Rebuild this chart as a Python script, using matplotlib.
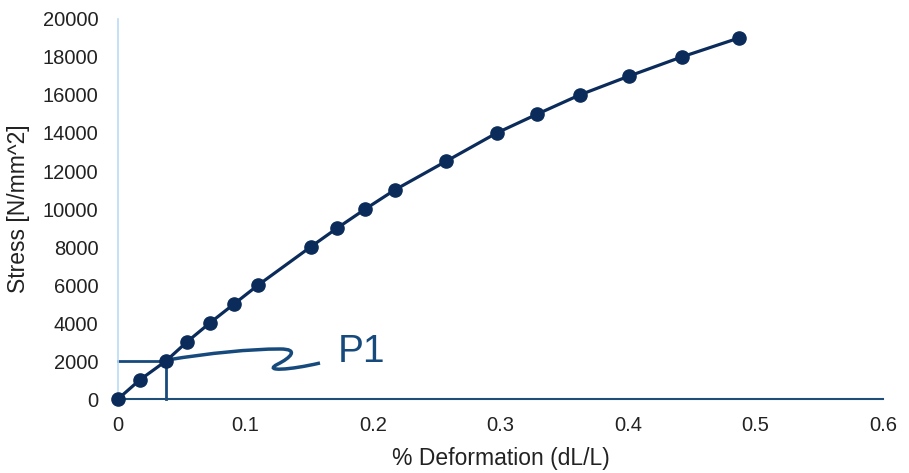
import matplotlib
matplotlib.use("Agg")
import matplotlib.pyplot as plt
from matplotlib.path import Path
from matplotlib.patches import PathPatch

plt.rcParams['font.family'] = ['Liberation Sans', 'DejaVu Sans']

deformation = [0.0, 0.017, 0.0376, 0.054, 0.072, 0.091, 0.110, 0.151, 0.172,
               0.194, 0.217, 0.257, 0.297, 0.329, 0.362, 0.401, 0.442, 0.487]
stress = [0, 1000, 2000, 3000, 4000, 5000, 6000, 8000, 9000,
          10000, 11000, 12500, 14000, 15000, 16000, 17000, 18000, 19000]
x_ticks = [0, 0.1, 0.2, 0.3, 0.4, 0.5, 0.6]
x_tick_labels = ['0', '0.1', '0.2', '0.3', '0.4', '0.5', '0.6']
y_ticks = list(range(0, 20001, 2000))
p1_x, p1_y = 0.0376, 2000

navy = '#0b2c5a'
anno = '#174a7c'

fig = plt.figure(figsize=(9.09, 4.73), dpi=100)
ax = fig.add_axes([118/909, 1-399/473, (883-118)/909, (399-19)/473])

ax.plot(deformation, stress, color=navy, lw=2.3, marker='o', ms=9.5,
        markerfacecolor=navy, markeredgecolor=navy, zorder=3, clip_on=False)

# P1 guide lines
ax.plot([0, p1_x], [p1_y, p1_y], color=anno, lw=2, zorder=2, clip_on=False)
ax.plot([p1_x, p1_x], [0, p1_y], color=anno, lw=2, zorder=2, clip_on=False)

# squiggle leader
def px(x):
    return (x - 118) / 127.5 * 0.1

def py(y):
    return (399 - y) / 19 * 1000

verts = [(px(167), py(360)),
         (px(210), py(353)), (px(250), py(349)), (px(280), py(349)),
         (px(300), py(349)), (px(290), py(358)), (px(278), py(364)),
         (px(262), py(372)), (px(290), py(370)), (px(320), py(363))]
codes = [Path.MOVETO] + [Path.CURVE4] * 9
ax.add_patch(PathPatch(Path(verts, codes), facecolor='none', edgecolor=anno,
                       lw=2.5, zorder=2, clip_on=False))
ax.text(px(338), py(352), 'P1', fontsize=28, color=anno, va='center', ha='left')

ax.set_xlim(0, 0.6)
ax.set_ylim(0, 20000)
ax.set_xticks(x_ticks)
ax.set_xticklabels(x_tick_labels)
ax.set_yticks(y_ticks)
ax.set_yticklabels([str(v) for v in y_ticks])
ax.tick_params(length=0, labelsize=14.5, colors='#222222')
ax.tick_params(axis='x', pad=12)
ax.tick_params(axis='y', pad=14)

for s in ['top', 'right']:
    ax.spines[s].set_visible(False)
ax.spines['left'].set_color('#b9dcf7')
ax.spines['left'].set_linewidth(1.2)
ax.spines['bottom'].set_color('#1f4e79')
ax.spines['bottom'].set_linewidth(1.5)

ax.set_xlabel('% Deformation (dL/L)', fontsize=16.5, color='#222222', labelpad=9)
ax.set_ylabel('Stress [N/mm^2]', fontsize=16.5, color='#222222', labelpad=9)

fig.savefig('out.png', dpi=100)
